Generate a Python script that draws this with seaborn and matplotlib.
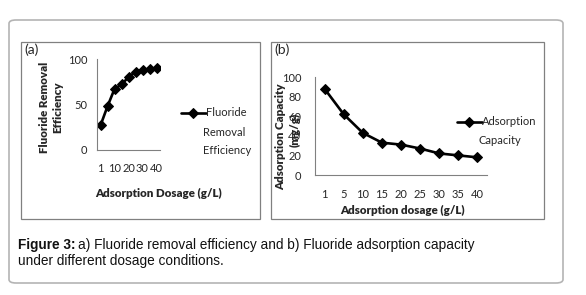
"""
plot.py
fluoride removal efficiency and adsorption capacity vs dosage
"""
import matplotlib.pyplot as plt
import matplotlib.patches as patches
import seaborn as sns
import pandas as pd

# data
dosage = [1, 5, 10, 15, 20, 25, 30, 35, 40]
efficiency = [27, 48, 67, 72, 80, 86, 88, 89, 90]
capacity = [88, 62, 43, 33, 31, 27, 22, 20, 18]

W, H = 586, 295
sns.set_style("white")
plt.rcParams['font.family'] = ['Lato', 'DejaVu Sans']

fig = plt.figure(figsize=(W / 100, H / 100), dpi=100)


# convert pixel box (left, top, right, bottom) to figure fractions
def px_axes(l, t, r, b):
    return fig.add_axes([l / W, 1 - b / H, (r - l) / W, (b - t) / H])


def px_rect(l, t, r, b, **kw):
    return patches.Rectangle((l / W, 1 - b / H), (r - l) / W, (b - t) / H,
                             transform=fig.transFigure, fill=False, **kw)


# outer rounded frame and the two panel frames
outer = patches.FancyBboxPatch((9 / W, 1 - 283 / H), 554 / W, 263 / H,
                               boxstyle="round,pad=0,rounding_size=0.012",
                               transform=fig.transFigure, fill=False,
                               edgecolor="#b4b4b4", linewidth=1.2)
fig.patches.append(outer)
fig.patches.append(px_rect(21, 42, 260, 219, edgecolor="#808080", linewidth=0.9))
fig.patches.append(px_rect(271, 42, 544, 219, edgecolor="#808080", linewidth=0.9))

df = pd.DataFrame({'pos': range(len(dosage)), 'dosage': dosage,
                   'efficiency': efficiency, 'capacity': capacity})

line_kw = dict(color="black", marker="D", markersize=5, linewidth=1.9,
               markeredgecolor="black")
tick_size = 8
label_kw = dict(fontsize=8.3, fontweight="heavy")

# ---- panel (a)
ax1 = px_axes(97, 59, 160, 150)
sns.lineplot(data=df, x='pos', y='efficiency', ax=ax1, label="Fluoride", **line_kw)
ax1.set_xlim(-0.5, len(dosage) - 0.5)
ax1.set_ylim(0, 100)
ax1.set_yticks([0, 50, 100])
ax1.set_xticks(df['pos'][::2])
ax1.set_xticklabels(df['dosage'][::2])
ax1.tick_params(axis='y', length=4, width=0.8, color="#808080", labelsize=tick_size, pad=3)
ax1.tick_params(axis='x', length=0, labelsize=tick_size, pad=9)
ax1.set_xlabel("Adsorption Dosage (g/L)", va="center", **label_kw)
ax1.xaxis.set_label_coords(159 / W, 1 - 193 / H, transform=fig.transFigure)
ax1.set_ylabel("Fluoride Removal\nEfficiency", va="center", **label_kw)
ax1.yaxis.set_label_coords(51 / W, 1 - 107 / H, transform=fig.transFigure)
for s in ['top', 'right']:
    ax1.spines[s].set_visible(False)
for s in ['left', 'bottom']:
    ax1.spines[s].set_color("#808080")
    ax1.spines[s].set_linewidth(0.8)
ax1.legend(loc="center left", bbox_to_anchor=(175 / W, 1 - 113 / H),
           bbox_transform=fig.transFigure, frameon=False, fontsize=tick_size,
           handlelength=2.3, handletextpad=0.0, borderpad=0)
fig.text(203 / W, 1 - 132 / H, "Removal", fontsize=tick_size, va="center")
fig.text(203 / W, 1 - 150 / H, "Efficiency", fontsize=tick_size, va="center")
fig.text(24 / W, 1 - 50 / H, "(a)", fontsize=10, va="center")

# ---- panel (b)
ax2 = px_axes(315, 77, 487, 175)
sns.lineplot(data=df, x='pos', y='capacity', ax=ax2, label="Adsorption", **line_kw)
ax2.set_xlim(-0.5, len(dosage) - 0.5)
ax2.set_ylim(0, 100)
ax2.set_yticks(range(0, 101, 20))
ax2.set_xticks(df['pos'])
ax2.set_xticklabels(df['dosage'])
ax2.tick_params(axis='both', length=0, labelsize=tick_size)
ax2.tick_params(axis='y', pad=10)
ax2.tick_params(axis='x', pad=10)
ax2.set_xlabel("Adsorption dosage (g/L)", va="center", **label_kw)
ax2.xaxis.set_label_coords(402 / W, 1 - 210 / H, transform=fig.transFigure)
ax2.set_ylabel("Adsorption Capacity", va="center", **label_kw)
ax2.yaxis.set_label_coords(281 / W, 1 - 137 / H, transform=fig.transFigure)
# unit line sits over the tick labels as in the original
fig.text(295 / W, 1 - 130 / H, "(mg/g)", rotation=90, ha="center", va="center",
         **label_kw)
for s in ['top', 'right']:
    ax2.spines[s].set_visible(False)
for s in ['left', 'bottom']:
    ax2.spines[s].set_color("#808080")
    ax2.spines[s].set_linewidth(0.8)
ax2.legend(loc="center left", bbox_to_anchor=(451 / W, 1 - 122 / H),
           bbox_transform=fig.transFigure, frameon=False, fontsize=tick_size,
           handlelength=2.3, handletextpad=0.0, borderpad=0)
fig.text(479 / W, 1 - 141 / H, "Capacity", fontsize=tick_size, va="center")
fig.text(274 / W, 1 - 50 / H, "(b)", fontsize=10, va="center")

# ---- caption, bold lead then regular text
cap_kw = dict(fontsize=9.8, color="#111111", family="Liberation Sans")
lead = fig.text(18 / W, 1 - 245 / H, "Figure 3:", fontweight="bold", va="center", **cap_kw)
fig.canvas.draw()
bb = lead.get_window_extent()
fig.text((bb.x1 + 3) / W, 1 - 245 / H,
         "a) Fluoride removal efficiency and b) Fluoride adsorption capacity",
         va="center", **cap_kw)
fig.text(18 / W, 1 - 261 / H, "under different dosage conditions.", va="center", **cap_kw)

fig.savefig("out.png", dpi=100)
